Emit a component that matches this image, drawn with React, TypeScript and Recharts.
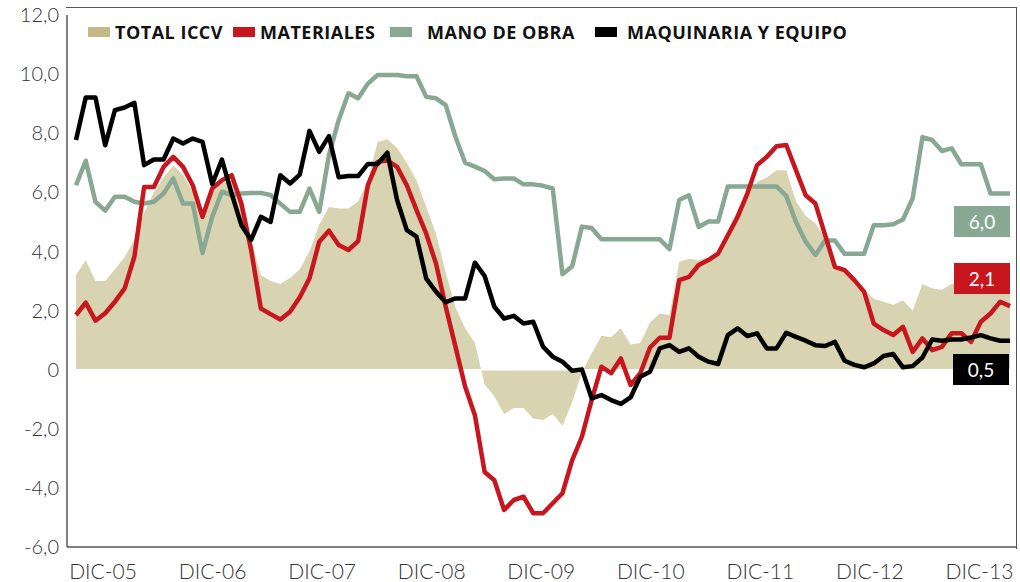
import React from 'react';
import { ComposedChart, Area, Line, XAxis, YAxis, ReferenceLine } from 'recharts';

// Monthly series, DIC-05 .. DIC-13 (97 points)
const monthNames = ['DIC', 'ENE', 'FEB', 'MAR', 'ABR', 'MAY', 'JUN', 'JUL', 'AGO', 'SEP', 'OCT', 'NOV'];

const totalIccv = [
  3.2, 3.7, 3.0, 3.0, 3.4, 3.8, 4.4, 5.3, 6.0, 6.5, 6.9, 6.6, 6.0, 5.4, 6.0, 6.3, 6.4, 5.6, 4.4, 3.2,
  3.0, 2.9, 3.1, 3.4, 4.0, 4.9, 5.5, 5.45, 5.45, 5.7, 6.4, 7.7, 7.8, 7.5, 7.0, 6.4, 5.5, 4.6, 3.3, 2.1,
  1.4, 0.9, -0.5, -0.9, -1.5, -1.3, -1.3, -1.65, -1.7, -1.5, -1.9, -1.1, -0.1, 0.55, 1.15, 1.1, 1.4, 0.85, 0.9, 1.6,
  1.9, 1.85, 3.65, 3.75, 3.7, 3.8, 4.0, 4.55, 5.4, 6.0, 6.35, 6.5, 6.75, 6.75, 5.7, 5.2, 4.95, 4.45, 3.65, 3.25,
  3.0, 2.7, 2.4, 2.3, 2.2, 2.35, 2.0, 2.9, 2.75, 2.7, 2.9, 3.0, 3.1, 3.0, 2.9, 2.8, 2.7,
];

const materiales = [
  1.85, 2.27, 1.66, 1.91, 2.3, 2.75, 3.82, 6.18, 6.18, 6.86, 7.2, 6.86, 6.24, 5.17, 6.13, 6.41, 6.58, 5.62, 4.05, 2.07,
  1.88, 1.7, 1.96, 2.45, 3.09, 4.33, 4.7, 4.22, 4.05, 4.35, 6.24, 7.03, 7.08, 6.86, 6.24, 5.4, 4.6, 3.59, 2.13, 0.78,
  -0.58, -1.54, -3.46, -3.74, -4.75, -4.41, -4.3, -4.86, -4.86, -4.52, -4.18, -3.06, -2.27, -1.03, 0.1, -0.12, 0.38, -0.52, -0.12, 0.75,
  1.08, 1.08, 3.03, 3.14, 3.54, 3.71, 3.93, 4.55, 5.17, 5.96, 6.92, 7.2, 7.56, 7.6, 6.75, 5.9, 5.62, 4.55, 3.48, 3.37,
  3.03, 2.64, 1.56, 1.34, 1.17, 1.45, 0.6, 1.06, 0.66, 0.77, 1.23, 1.23, 0.94, 1.62, 1.9, 2.3, 2.15,
];

const manoDeObra = [
  6.24, 7.07, 5.68, 5.38, 5.85, 5.85, 5.68, 5.62, 5.68, 5.96, 6.47, 5.62, 5.62, 3.95, 5.17, 6.02, 5.91, 5.96, 5.98, 5.98,
  5.91, 5.62, 5.34, 5.34, 6.13, 5.34, 7.26, 8.44, 9.35, 9.18, 9.68, 9.97, 9.97, 9.97, 9.93, 9.93, 9.23, 9.18, 8.95, 7.88,
  7.0, 6.87, 6.72, 6.44, 6.47, 6.47, 6.27, 6.27, 6.22, 6.13, 3.23, 3.5, 4.84, 4.79, 4.41, 4.41, 4.41, 4.41, 4.41, 4.41,
  4.41, 4.08, 5.74, 5.9, 4.83, 5.01, 5.01, 6.2, 6.2, 6.2, 6.2, 6.2, 6.2, 5.88, 5.0, 4.33, 3.88, 4.37, 4.37, 3.92,
  3.92, 3.92, 4.89, 4.89, 4.92, 5.08, 5.8, 7.87, 7.77, 7.4, 7.49, 6.95, 6.95, 6.95, 5.96, 5.96, 5.96,
];

const maquinaria = [
  7.77, 9.21, 9.21, 7.59, 8.78, 8.87, 9.03, 6.92, 7.11, 7.11, 7.82, 7.65, 7.82, 7.71, 6.28, 7.11, 5.96, 4.89, 4.39, 5.17,
  5.0, 6.58, 6.3, 6.6, 8.08, 7.37, 7.9, 6.51, 6.55, 6.55, 6.96, 6.96, 7.34, 5.74, 4.72, 4.5, 3.08, 2.64, 2.28, 2.41,
  2.41, 3.62, 3.17, 2.13, 1.73, 1.82, 1.56, 1.62, 0.78, 0.44, 0.27, -0.04, 0.01, -0.97, -0.86, -1.03, -1.16, -0.94, -0.24, -0.07,
  0.72, 0.83, 0.6, 0.72, 0.44, 0.27, 0.19, 1.17, 1.4, 1.14, 1.23, 0.72, 0.72, 1.25, 1.11, 0.98, 0.83, 0.8, 0.94, 0.3,
  0.16, 0.08, 0.21, 0.46, 0.53, 0.08, 0.12, 0.41, 1.02, 0.98, 1.02, 1.02, 1.09, 1.17, 1.06, 0.98, 0.98,
];

// the year labels are spread evenly under the plot, not on the month points
const yearLabels = ['DIC-05', 'DIC-06', 'DIC-07', 'DIC-08', 'DIC-09', 'DIC-10', 'DIC-11', 'DIC-12', 'DIC-13'];
const labelStart = 2.78;
const labelStep = 11.26;
const yTicks = [-6, -4, -2, 0, 2, 4, 6, 8, 10, 12];
const endValues = ['6,0', '2,1', '0,5'];

const COLORS = {
  total: '#D8D3B0',
  totalSwatch: '#C2B983',
  materiales: '#C8161E',
  mano: '#88A893',
  maquinaria: '#000000',
  axis: '#555555',
  text: '#333333',
};

const legendItems = [
  { name: 'TOTAL ICCV', color: COLORS.totalSwatch },
  { name: 'MATERIALES', color: COLORS.materiales },
  { name: 'MANO DE OBRA', color: COLORS.mano },
  { name: 'MAQUINARIA Y EQUIPO', color: COLORS.maquinaria },
];
const legendPos = [
  { left: 88, gap: 5 },
  { left: 233, gap: 5 },
  { left: 390, gap: 15 },
  { left: 595, gap: 10 },
];

const endBoxStyles = [
  { left: 954, top: 206, background: COLORS.mano },
  { left: 954, top: 263, background: COLORS.materiales },
  { left: 953, top: 354, background: COLORS.maquinaria },
];

const chartData = totalIccv.map((t, i) => ({
  i,
  month: `${monthNames[i % 12]}-${String(5 + Math.floor((i + 11) / 12)).padStart(2, '0')}`,
  total: t,
  materiales: materiales[i],
  mano: manoDeObra[i],
  maquinaria: maquinaria[i],
}));

const xTicks = yearLabels.map((_, k) => labelStart + k * labelStep);
const fmtX = (v: number) => yearLabels[Math.round((v - labelStart) / labelStep)] ?? '';
const fmtY = (v: number) => (v === 0 ? '0' : v.toFixed(1).replace('.', ','));

const tickStyle = { fontFamily: 'Lato, sans-serif', fontSize: 20, fontWeight: 300, fill: COLORS.text };

export default function App() {
  return (
    <div style={{ position: 'relative', width: 1020, height: 582, background: '#fff' }}>
      <style>{`body { margin: 0; }`}</style>
      <ComposedChart
        width={1020}
        height={582}
        data={chartData}
        margin={{ top: 15, right: 4, bottom: 0, left: 0 }}
      >
        <XAxis
          dataKey="i"
          type="number"
          domain={[0, chartData.length - 1]}
          padding={{ left: 9, right: 6 }}
          ticks={xTicks}
          interval={0}
          tickFormatter={fmtX}
          height={35}
          axisLine={{ stroke: COLORS.axis, strokeWidth: 1.5 }}
          tickLine={false}
          tickMargin={11}
          tick={{ ...tickStyle, fontSize: 21 }}
        />
        <YAxis
          domain={[-6, 12]}
          ticks={yTicks}
          interval={0}
          width={67}
          axisLine={{ stroke: COLORS.axis, strokeWidth: 1.5 }}
          tickLine={false}
          tickFormatter={fmtY}
          tick={tickStyle}
        />
        <Area
          type="linear"
          dataKey="total"
          baseValue={0}
          stroke="none"
          fill={COLORS.total}
          fillOpacity={1}
          isAnimationActive={false}
        />
        <ReferenceLine y={0} stroke="#ffffff" strokeWidth={1.5} />
        <Line
          type="linear"
          dataKey="mano"
          stroke={COLORS.mano}
          strokeWidth={4.5}
          dot={false}
          strokeLinejoin="round"
          isAnimationActive={false}
        />
        <Line
          type="linear"
          dataKey="materiales"
          stroke={COLORS.materiales}
          strokeWidth={4.5}
          dot={false}
          strokeLinejoin="round"
          isAnimationActive={false}
        />
        <Line
          type="linear"
          dataKey="maquinaria"
          stroke={COLORS.maquinaria}
          strokeWidth={4.5}
          dot={false}
          strokeLinejoin="round"
          isAnimationActive={false}
        />
      </ComposedChart>

      {/* frame around the plot */}
      <div
        style={{
          position: 'absolute',
          left: 66,
          top: 7,
          width: 951,
          height: 542,
          boxSizing: 'border-box',
          borderTop: `1.5px solid ${COLORS.axis}`,
          borderRight: `1.5px solid ${COLORS.axis}`,
          pointerEvents: 'none',
        }}
      />

      {/* legend */}
      {legendItems.map((it, k) => (
        <div
          key={it.name}
          style={{
            position: 'absolute',
            left: legendPos[k].left,
            top: 20,
            height: 24,
            display: 'flex',
            alignItems: 'center',
            fontFamily: '"Open Sans", sans-serif',
            fontWeight: 700,
            fontSize: 18,
            letterSpacing: 0.5,
            color: '#111',
            whiteSpace: 'nowrap',
          }}
        >
          <span
            style={{
              display: 'inline-block',
              width: 22,
              height: 10,
              background: it.color,
              marginRight: legendPos[k].gap,
            }}
          />
          <span>{it.name}</span>
        </div>
      ))}

      {/* end value boxes */}
      {endValues.map((v, k) => (
        <div
          key={v}
          style={{
            position: 'absolute',
            ...endBoxStyles[k],
            width: 56,
            height: 31,
            color: '#fff',
            fontFamily: 'Lato, sans-serif',
            fontSize: 19,
            display: 'flex',
            alignItems: 'center',
            justifyContent: 'center',
          }}
        >
          {v}
        </div>
      ))}
    </div>
  );
}
